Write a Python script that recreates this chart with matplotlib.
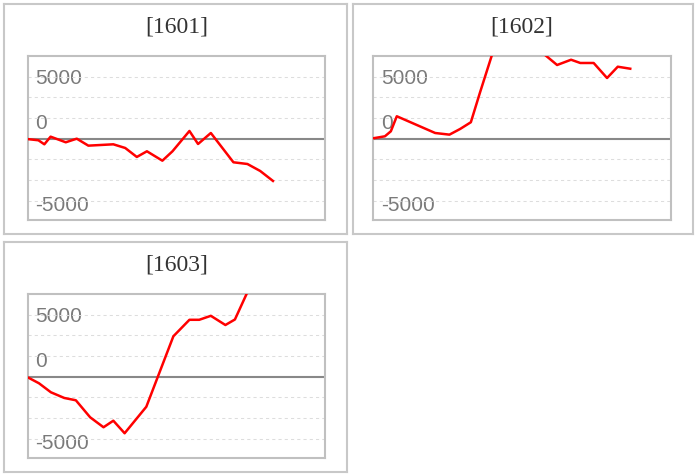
import matplotlib
matplotlib.use("Agg")
import matplotlib.pyplot as plt

W, H = 698, 477

# series (x = position along the period, 0..100)
titles = ["[1601]", "[1602]", "[1603]"]

x_1601 = [0, 3.6, 5.6, 7.7, 12.8, 16.5, 20.4, 28.8, 32.8, 36.7, 40.1, 45.3, 48.7,
          54.4, 57.3, 61.6, 69.2, 73.9, 78.2, 82.5]
y_1601 = [-40, -155, -545, 195, -350, 0, -675, -545, -900, -1770, -1220, -2130, -1220,
          745, -515, 550, -2285, -2450, -3125, -4090]

x_1602 = [0, 3.9, 5.9, 7.9, 20.8, 25.6, 29.2, 32.8, 35.9, 42, 48, 54, 61.8, 66.5,
          69.6, 74.1, 78.6, 82.2, 86.4]
y_1602 = [40, 230, 715, 2170, 550, 390, 940, 1590, 4490, 10000, 11000, 9000, 7130, 7640,
          7325, 7325, 5870, 6965, 6770]

x_1603 = [0, 3.8, 7.8, 12.3, 16.2, 21.0, 25.5, 28.8, 32.6, 39.9, 49.0, 54.4, 57.7,
          61.6, 66.5, 69.7, 76]
y_1603 = [-60, -640, -1510, -2060, -2285, -3930, -4895, -4260, -5475, -2910, 3910, 5505,
          5505, 5890, 5000, 5535, 9500]

series = [(x_1601, y_1601), (x_1602, y_1602), (x_1603, y_1603)]

grid_levels = [-6000, -4000, -2000, 2000, 4000, 6000]
tick_pos = [5950, 1570, -6390]
tick_labels = ["5000", "0", "-5000"]

# layout in pixels: (left, top, right, bottom)
panel_boxes = [(4, 4.7, 347, 235), (352.7, 4.7, 693.3, 235), (4, 242.7, 347, 473)]
plot_boxes = [(27.7, 56.7, 325, 221), (373.3, 56.7, 670.7, 221), (27.7, 294.7, 325, 459)]


def frac(box):
    l, t, r, b = box
    return [l / W, 1 - b / H, (r - l) / W, (b - t) / H]


fig = plt.figure(figsize=(W / 100, H / 100), dpi=100)
fig.patch.set_facecolor("white")

for i in range(3):
    # outer panel frame
    pax = fig.add_axes(frac(panel_boxes[i]))
    pax.set_xticks([])
    pax.set_yticks([])
    for s in pax.spines.values():
        s.set_color("#c8c8c8")
        s.set_linewidth(1.5)

    ax = fig.add_axes(frac(plot_boxes[i]))
    x, y = series[i]
    ax.set_xlim(0, 100)
    ax.set_ylim(-7870, 8030)

    ax.set_yticks(grid_levels, minor=True)
    ax.grid(which="minor", axis="y", color="#dddddd", linewidth=0.75,
            linestyle=(0, (3, 3)))
    ax.axhline(0, color="#888888", linewidth=1.5, zorder=2)
    ax.plot(x, y, color="#ff0000", linewidth=1.8, zorder=3)

    ax.set_xticks([])
    ax.set_yticks(tick_pos)
    ax.set_yticklabels(tick_labels, fontfamily="Liberation Sans", fontsize=15,
                       color="#7a7a7a")
    ax.tick_params(axis="y", which="both", length=0, pad=-5.5)
    for lab in ax.get_yticklabels():
        lab.set_horizontalalignment("left")
        lab.set_verticalalignment("center")

    for s in ax.spines.values():
        s.set_color("#c0c0c0")
        s.set_linewidth(1.5)

    ax.text(0.5, 1.181, titles[i], transform=ax.transAxes, ha="center", va="center",
            fontfamily="Liberation Serif", fontsize=17, color="#333333")

fig.savefig("out.png", dpi=100)
